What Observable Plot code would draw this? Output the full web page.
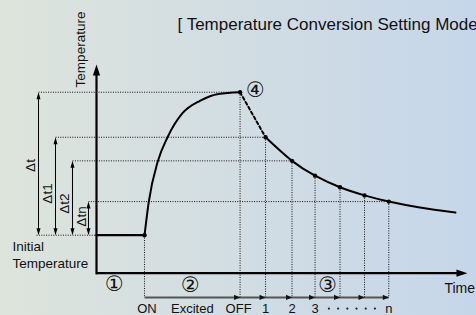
<!DOCTYPE html>
<html><head><meta charset="utf-8">
<script src="https://cdn.jsdelivr.net/npm/d3@7"></script>
<script src="https://cdn.jsdelivr.net/npm/@observablehq/plot@0.6"></script>
<style>
html,body{margin:0;padding:0;}
body{width:476px;height:315px;overflow:hidden;background:linear-gradient(to right,#dde4dc,#c6d6ea);}
svg{display:block;}
</style></head><body><div id="chart"></div>
<script>
// ---- data (time in arbitrary units, temperature in °C) ----
const initialTemp = 20;
const peakTemp = 80;
const onTime = 1.96;
const offTime = 5.86;
const riseTimes = [1.96, 2.0, 2.13, 2.5, 2.89, 3.5, 4.24, 4.98, 5.86];
const riseTemps = [20, 23.4, 33.8, 50.9, 60.9, 71.1, 76.5, 79.3, 80];
const sampleTimes = [6.90, 7.98, 8.92, 9.94, 10.94, 11.93];
const sampleTemps = [61.1, 51.2, 45.0, 40.1, 36.7, 34.1];
const tailTimes = [13.2, 14.65];
const tailTemps = [31.6, 29.5];
const timeLabels = ["ON", "Excited", "OFF", "1", "2", "3", "n"];
const deltaLabels = ["Δt", "Δt1", "Δt2", "Δtn"];
const deltaTemps = [80, 61.1, 51.2, 34.1];
const phaseLabels = ["①", "②", "③", "④"];
const titleText = "[ Temperature Conversion Setting Mode ]";
const yLabel = "Temperature";
const xLabel = "Time";
const initialLabel = "Initial\nTemperature";

// ---- layout ----
const axisTemp = 4.05;      // level of time axis
const timelineTemp = -6.1;  // level of the lower timeline
const labelTemp = -11.1;    // tick label row
const yTip = 91.6, xTip = 15.14;
const deltaX = [-2.367, -1.673, -0.980, -0.327];
const deltaEnd = [offTime, sampleTimes[0], sampleTimes[1], sampleTimes[5]];
const deltaLabelPos = [[-2.694, 49.25], [-2.0, 37.5], [-1.306, 33.3], [-0.612, 27.85]];
const phasePos = [[0.735, -0.69], [3.837, -1.11], [9.43, -1.11], [6.49, 80.72]];
const labelTimes = [onTime + 0.1, (onTime + offTime) / 2, offTime - 0.06, sampleTimes[0], sampleTimes[1], sampleTimes[2], sampleTimes[5]];
const font = "Liberation Sans, Arial, Helvetica, sans-serif";
const dotted = "1,1.4";

const riseData = riseTimes.map((t, i) => ({t, T: riseTemps[i]}));
const decayData = [...sampleTimes, ...tailTimes].map((t, i) => ({t, T: [...sampleTemps, ...tailTemps][i]}));
const verticals = [{t: onTime, T: initialTemp}, {t: offTime, T: peakTemp}, ...sampleTimes.map((t, i) => ({t, T: sampleTemps[i]}))];
const idx4 = d3.range(4);
const dotsMid = (sampleTimes[2] + sampleTimes[5]) / 2;

const chart = Plot.plot({
  width: 476, height: 315, margin: 0,
  x: {domain: [-96 / 24.5, 380 / 24.5], axis: null},
  y: {domain: [20 - 80.3 / 2.383, 20 + 234.7 / 2.383], axis: null},
  style: {background: "transparent", overflow: "visible"},
  marks: [
    // horizontal dotted guides
    Plot.link(idx4, {x1: i => deltaX[i], x2: i => deltaEnd[i], y1: i => deltaTemps[i], y2: i => deltaTemps[i], stroke: "#111", strokeWidth: 1, strokeDasharray: dotted}),
    Plot.link([0], {x1: deltaX[0] - 0.08, x2: 0, y1: initialTemp, y2: initialTemp, stroke: "#111", strokeWidth: 1, strokeDasharray: dotted}),
    // vertical dotted guides
    Plot.link(verticals, {x1: "t", x2: "t", y1: "T", y2: timelineTemp, stroke: "#111", strokeWidth: 1, strokeDasharray: dotted}),
    // delta arrows
    Plot.link(idx4, {x1: i => deltaX[i], x2: i => deltaX[i], y1: initialTemp + 2, y2: i => deltaTemps[i] - 2, stroke: "#000", strokeWidth: 1}),
    Plot.vector(idx4, {x: i => deltaX[i], y: i => deltaTemps[i], rotate: 0, anchor: "end", shape: "spike", length: 7, r: 2, fill: "#000", stroke: "none", fillOpacity: 1}),
    Plot.vector(idx4, {x: i => deltaX[i], y: initialTemp, rotate: 180, anchor: "end", shape: "spike", length: 7, r: 2, fill: "#000", stroke: "none", fillOpacity: 1}),
    // axes
    Plot.link([0], {x1: 0, x2: 0, y1: axisTemp - 0.5, y2: yTip - 4, stroke: "#000", strokeWidth: 2.2}),
    Plot.vector([0], {x: 0, y: yTip, rotate: 0, anchor: "end", shape: "spike", length: 11, r: 3.6, fill: "#000", stroke: "none", fillOpacity: 1}),
    Plot.link([0], {x1: 0, x2: xTip - 0.4, y1: axisTemp, y2: axisTemp, stroke: "#000", strokeWidth: 2.2}),
    Plot.vector([0], {x: xTip, y: axisTemp, rotate: 90, anchor: "end", shape: "spike", length: 11, r: 3.6, fill: "#000", stroke: "none", fillOpacity: 1}),
    // lower timeline
    Plot.link([0], {x1: onTime, x2: sampleTimes[5], y1: timelineTemp, y2: timelineTemp, stroke: "#555", strokeWidth: 2}),
    Plot.vector([offTime, ...sampleTimes], {x: d => d, y: timelineTemp, rotate: 90, anchor: "end", shape: "spike", length: 6, r: 2.6, fill: "#111", stroke: "none", fillOpacity: 1}),
    // initial level
    Plot.line([0, onTime], {x: d => d, y: initialTemp, stroke: "#000", strokeWidth: 2.2}),
    // heating curve
    Plot.line(riseData, {x: "t", y: "T", curve: "monotone-x", stroke: "#000", strokeWidth: 2}),
    // transition dashed
    Plot.line([{t: offTime, T: peakTemp}, {t: sampleTimes[0], T: sampleTemps[0]}], {x: "t", y: "T", stroke: "#000", strokeWidth: 2, strokeDasharray: "3,2.6"}),
    // cooling curve
    Plot.line(decayData, {x: "t", y: "T", curve: "natural", stroke: "#000", strokeWidth: 2}),
    // points
    Plot.dot(verticals, {x: "t", y: "T", r: 2.2, fill: "#000"}),
    // texts
    Plot.text([titleText], {x: 3.306, y: 108.4, text: d => d, textAnchor: "start", fontSize: 17, fontFamily: font, fill: "#111"}),
    Plot.text([yLabel], {x: -0.653, y: 97.93, text: d => d, rotate: -90, fontSize: 13.5, fontFamily: font, fill: "#111"}),
    Plot.text([initialLabel], {x: -3.43, y: 12.11, text: d => d, textAnchor: "start", lineHeight: 1.25, fontSize: 13.5, fontFamily: font, fill: "#111"}),
    Plot.text(idx4, {x: i => deltaLabelPos[i][0], y: i => deltaLabelPos[i][1], text: i => deltaLabels[i], rotate: -90, fontSize: 13.5, fontFamily: font, fill: "#111"}),
    Plot.text(idx4, {x: i => phasePos[i][0], y: i => phasePos[i][1], text: i => phaseLabels[i], fontSize: 21, fontFamily: "DejaVu Sans, sans-serif", fill: "#111"}),
    Plot.text(timeLabels, {x: (d, i) => labelTimes[i], y: labelTemp, text: d => d, fontSize: 13, fontFamily: font, fill: "#111"}),
    Plot.dot(d3.range(6), {x: i => dotsMid + (i - 2.5) * 0.3755, y: labelTemp + 0.3, r: 1.1, fill: "#222"}),
    Plot.text([xLabel], {x: 14.2, y: -2.45, text: d => d, textAnchor: "start", fontSize: 14, fontFamily: font, fill: "#111"})
  ]
});
document.getElementById("chart").appendChild(chart);
</script></body></html>
